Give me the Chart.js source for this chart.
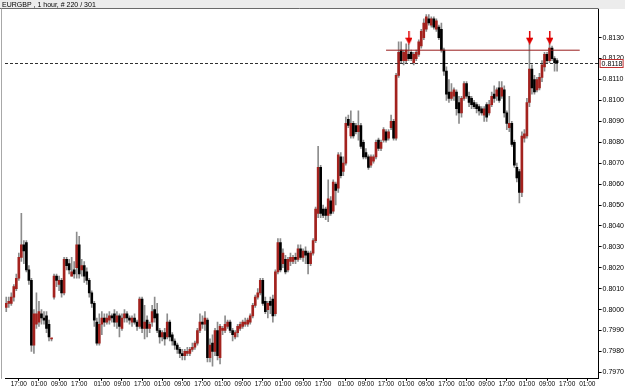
<!DOCTYPE html>
<html>
<head>
<meta charset="utf-8">
<script src="https://cdn.jsdelivr.net/npm/chart.js@4"></script>
<style>
html, body { margin: 0; padding: 0; background: #fff; }
</style>
</head>
<body>
<canvas id="chart" width="625" height="388"></canvas>
<script>
// EURGBP 1 hour candles, oldest first
const opens = [
  0.8001,0.8003,0.8003,0.8006,0.8010,0.8015,0.8025,0.8031,0.8032,0.8019,
  0.8014,0.7983,0.7993,0.7994,0.7998,0.7996,0.7997,0.7993,0.7986,0.8006,
  0.8016,0.8012,0.8014,0.8008,0.8024,0.8022,0.8016,0.8019,0.8020,0.8031,
  0.8019,0.8021,0.8018,0.8014,0.8008,0.8003,0.7994,0.7984,0.7993,0.7996,
  0.7994,0.7995,0.7997,0.7998,0.7994,0.7997,0.7991,0.7996,0.7998,0.7996,
  0.7994,0.7996,0.7994,0.7992,0.8005,0.7991,0.7995,0.7991,0.7994,0.8000,
  0.7998,0.7990,0.7987,0.7989,0.7987,0.7994,0.7988,0.7985,0.7983,0.7981,
  0.7979,0.7978,0.7979,0.7979,0.7981,0.7982,0.7984,0.7990,0.7994,0.7993,
  0.7995,0.7977,0.7984,0.7980,0.7990,0.7977,0.7990,0.7990,0.7992,0.7994,
  0.7990,0.7987,0.7989,0.7991,0.7992,0.7993,0.7993,0.7994,0.7997,0.8002,
  0.8006,0.8008,0.8014,0.8004,0.8000,0.8004,0.8005,0.7998,0.8018,0.8032,
  0.8022,0.8024,0.8019,0.8023,0.8023,0.8025,0.8024,0.8029,0.8025,0.8028,
  0.8027,0.8022,0.8027,0.8033,0.8046,0.8068,0.8048,0.8048,0.8045,0.8052,
  0.8047,0.8060,0.8058,0.8073,0.8066,0.8070,0.8091,0.8083,0.8089,0.8088,
  0.8085,0.8088,0.8080,0.8075,0.8073,0.8069,0.8071,0.8073,0.8081,0.8077,
  0.8081,0.8085,0.8082,0.8087,0.8090,0.8082,0.8112,0.8124,0.8119,0.8119,
  0.8122,0.8123,0.8118,0.8120,0.8122,0.8126,0.8130,0.8134,0.8139,0.8136,
  0.8139,0.8134,0.8135,0.8134,0.8124,0.8114,0.8104,0.8101,0.8102,0.8104,
  0.8099,0.8094,0.8101,0.8108,0.8102,0.8101,0.8099,0.8098,0.8097,0.8096,
  0.8093,0.8098,0.8094,0.8098,0.8103,0.8102,0.8106,0.8102,0.8105,0.8094,
  0.8087,0.8089,0.8080,0.8068,0.8066,0.8056,0.8082,0.8083,0.8099,0.8115,
  0.8110,0.8105,0.8106,0.8111,0.8116,0.8122,0.8119,0.8125,0.8120,0.8119
];
const highs = [
  0.8006,0.8006,0.8008,0.8012,0.8017,0.8027,0.8046,0.8033,0.8033,0.8021,
  0.8015,0.8000,0.8008,0.8004,0.8000,0.7999,0.7999,0.7995,0.7986,0.8017,
  0.8017,0.8016,0.8015,0.8025,0.8025,0.8024,0.8025,0.8023,0.8037,0.8035,
  0.8024,0.8023,0.8020,0.8015,0.8009,0.8004,0.7996,0.7998,0.7999,0.7998,
  0.7998,0.7999,0.7998,0.8000,0.7999,0.7998,0.7998,0.8000,0.7999,0.7997,
  0.7997,0.7998,0.7995,0.8006,0.8006,0.8002,0.7997,0.7994,0.8002,0.8006,
  0.8003,0.7991,0.7990,0.7991,0.7998,0.7995,0.7989,0.7986,0.7984,0.7982,
  0.7981,0.7981,0.7982,0.7982,0.7984,0.7985,0.7991,0.7998,0.7997,0.7999,
  0.7996,0.7986,0.7988,0.7991,0.7994,0.7993,0.7992,0.7997,0.7995,0.7995,
  0.7991,0.7990,0.7993,0.7994,0.7995,0.7996,0.7996,0.7998,0.8003,0.8007,
  0.8010,0.8015,0.8015,0.8006,0.8004,0.8006,0.8007,0.8019,0.8034,0.8034,
  0.8029,0.8026,0.8025,0.8027,0.8026,0.8027,0.8031,0.8031,0.8029,0.8030,
  0.8028,0.8028,0.8034,0.8049,0.8078,0.8069,0.8050,0.8049,0.8062,0.8054,
  0.8062,0.8061,0.8075,0.8075,0.8073,0.8092,0.8093,0.8095,0.8090,0.8089,
  0.8095,0.8089,0.8081,0.8077,0.8074,0.8074,0.8074,0.8081,0.8082,0.8081,
  0.8087,0.8086,0.8086,0.8093,0.8091,0.8113,0.8128,0.8128,0.8124,0.8127,
  0.8127,0.8124,0.8123,0.8124,0.8129,0.8134,0.8139,0.8141,0.8141,0.8140,
  0.8140,0.8139,0.8136,0.8137,0.8125,0.8116,0.8110,0.8108,0.8106,0.8105,
  0.8102,0.8102,0.8109,0.8109,0.8104,0.8102,0.8100,0.8099,0.8098,0.8097,
  0.8097,0.8099,0.8100,0.8104,0.8107,0.8106,0.8109,0.8109,0.8107,0.8095,
  0.8102,0.8090,0.8081,0.8070,0.8067,0.8085,0.8086,0.8101,0.8128,0.8117,
  0.8112,0.8111,0.8113,0.8119,0.8123,0.8123,0.8128,0.8126,0.8121,0.8120
];
const lows = [
  0.7999,0.8001,0.8002,0.8004,0.8009,0.8014,0.8023,0.8022,0.8018,0.8012,
  0.7980,0.7979,0.7991,0.7992,0.7993,0.7993,0.7989,0.7985,0.7985,0.8005,
  0.8011,0.8009,0.8006,0.8007,0.8019,0.8017,0.8016,0.8015,0.8015,0.8015,
  0.8016,0.8013,0.8012,0.8006,0.8001,0.7992,0.7983,0.7983,0.7988,0.7992,
  0.7993,0.7993,0.7994,0.7992,0.7991,0.7987,0.7990,0.7994,0.7994,0.7993,
  0.7992,0.7993,0.7990,0.7991,0.7989,0.7986,0.7987,0.7989,0.7992,0.7994,
  0.7989,0.7984,0.7985,0.7983,0.7986,0.7985,0.7983,0.7981,0.7979,0.7977,
  0.7976,0.7976,0.7978,0.7978,0.7980,0.7981,0.7983,0.7989,0.7991,0.7990,
  0.7975,0.7975,0.7973,0.7978,0.7976,0.7974,0.7988,0.7989,0.7991,0.7989,
  0.7985,0.7986,0.7987,0.7990,0.7991,0.7992,0.7992,0.7993,0.7996,0.8001,
  0.8005,0.8007,0.8002,0.7998,0.7996,0.7998,0.7994,0.7997,0.8017,0.8018,
  0.8020,0.8017,0.8018,0.8021,0.8022,0.8022,0.8023,0.8024,0.8023,0.8022,
  0.8017,0.8021,0.8026,0.8032,0.8044,0.8044,0.8044,0.8043,0.8042,0.8045,
  0.8046,0.8050,0.8056,0.8063,0.8064,0.8069,0.8087,0.8082,0.8082,0.8084,
  0.8081,0.8077,0.8072,0.8072,0.8067,0.8068,0.8070,0.8072,0.8076,0.8076,
  0.8080,0.8080,0.8081,0.8086,0.8081,0.8081,0.8111,0.8118,0.8117,0.8118,
  0.8119,0.8119,0.8117,0.8119,0.8121,0.8125,0.8129,0.8133,0.8136,0.8135,
  0.8134,0.8133,0.8129,0.8123,0.8112,0.8100,0.8099,0.8100,0.8100,0.8093,
  0.8089,0.8092,0.8100,0.8101,0.8097,0.8096,0.8096,0.8094,0.8093,0.8093,
  0.8090,0.8090,0.8093,0.8097,0.8099,0.8100,0.8099,0.8101,0.8092,0.8086,
  0.8085,0.8078,0.8068,0.8061,0.8051,0.8054,0.8080,0.8082,0.8097,0.8103,
  0.8103,0.8104,0.8105,0.8109,0.8114,0.8118,0.8118,0.8119,0.8114,0.8114
];
const closes = [
  0.8003,0.8004,0.8006,0.8011,0.8015,0.8025,0.8031,0.8028,0.8019,0.8014,
  0.7983,0.7998,0.7998,0.7999,0.7996,0.7995,0.7991,0.7987,0.7986,0.8016,
  0.8014,0.8014,0.8008,0.8024,0.8021,0.8019,0.8018,0.8017,0.8031,0.8017,
  0.8021,0.8016,0.8014,0.8008,0.8003,0.7995,0.7984,0.7993,0.7996,0.7994,
  0.7996,0.7997,0.7996,0.7994,0.7997,0.7992,0.7996,0.7998,0.7996,0.7995,
  0.7996,0.7994,0.7992,0.8005,0.7991,0.7994,0.7991,0.7993,0.7999,0.7996,
  0.7990,0.7987,0.7989,0.7986,0.7994,0.7987,0.7985,0.7983,0.7981,0.7979,
  0.7978,0.7980,0.7980,0.7981,0.7982,0.7984,0.7990,0.7994,0.7993,0.7996,
  0.7977,0.7983,0.7980,0.7990,0.7978,0.7992,0.7991,0.7993,0.7994,0.7990,
  0.7988,0.7989,0.7992,0.7993,0.7994,0.7994,0.7995,0.7997,0.8002,0.8006,
  0.8008,0.8014,0.8003,0.7999,0.8003,0.8002,0.7997,0.8018,0.8032,0.8019,
  0.8027,0.8018,0.8024,0.8025,0.8025,0.8024,0.8029,0.8025,0.8028,0.8026,
  0.8022,0.8027,0.8033,0.8048,0.8068,0.8046,0.8045,0.8045,0.8053,0.8046,
  0.8061,0.8057,0.8074,0.8064,0.8070,0.8089,0.8088,0.8089,0.8083,0.8085,
  0.8088,0.8078,0.8073,0.8073,0.8068,0.8073,0.8073,0.8080,0.8077,0.8080,
  0.8086,0.8081,0.8085,0.8090,0.8082,0.8112,0.8123,0.8119,0.8123,0.8124,
  0.8120,0.8120,0.8122,0.8123,0.8128,0.8133,0.8137,0.8140,0.8137,0.8139,
  0.8135,0.8138,0.8130,0.8124,0.8114,0.8103,0.8101,0.8104,0.8105,0.8096,
  0.8094,0.8101,0.8108,0.8102,0.8099,0.8098,0.8097,0.8096,0.8095,0.8094,
  0.8096,0.8092,0.8098,0.8102,0.8101,0.8105,0.8100,0.8106,0.8094,0.8089,
  0.8089,0.8079,0.8069,0.8063,0.8056,0.8083,0.8084,0.8099,0.8115,0.8106,
  0.8104,0.8110,0.8111,0.8117,0.8122,0.8119,0.8125,0.8120,0.8118,0.8118
];

// time axis labels, left to right
const timeLabels = [
  '17:00','01:00','09:00','17:00','01:00','09:00','17:00','01:00','09:00','17:00',
  '01:00','09:00','17:00','01:00','09:00','17:00','01:00','09:00','17:00','01:00',
  '09:00','17:00','01:00','09:00','17:00','01:00','09:00','17:00','01:00'
];

// price axis labels
const priceTicks = [
  0.7970,0.7980,0.7990,0.8000,0.8010,0.8020,0.8030,0.8040,0.8050,
  0.8060,0.8070,0.8080,0.8090,0.8100,0.8110,0.8120,0.8130
];

const currentPrice = 0.8118;     // dashed bid line
const resistanceLevel = 0.8124;  // hand drawn red line
const resistanceBars = [151, 228];
const arrowBars = [160, 208, 216];
const arrowLevel = 0.8130;

//styles
const FONT = '"Liberation Sans", Arial, sans-serif';
const bullColor = '#a3221e';
const bearColor = '#000000';
const wickColor = '#8c8c8c';

//slots on the time axis: the bars plus the empty space on the right
const SLOTS = 236;
const slotLabels = new Array(SLOTS).fill('');
const labelSlots = timeLabels.map((t, j) => Math.round(5.23 + 8.08 * j));
labelSlots.forEach((s, j) => slotLabels[s] = timeLabels[j]);

const resistanceData = slotLabels.map((_, i) => resistanceBars.includes(i) ? resistanceLevel : null);
const arrowData = slotLabels.map((_, i) => arrowBars.includes(i) ? arrowLevel : null);

//red down arrow used as point style
const arrowImg = document.createElement('canvas');
arrowImg.width = 7;
arrowImg.height = 14;
(() => {
  const c = arrowImg.getContext('2d');
  c.fillStyle = '#e00000';
  c.fillRect(3, 0, 1.5, 7);
  c.beginPath();
  c.moveTo(0, 7);
  c.lineTo(7.5, 7);
  c.lineTo(3.75, 14);
  c.closePath();
  c.fill();
})();

const framePlugin = {
  id: 'frame',
  beforeDraw: (chart) => {
    const { ctx, chartArea: a } = chart;
    ctx.save();
    ctx.fillStyle = '#ffffff';
    ctx.fillRect(0, 0, chart.width, chart.height);
    ctx.fillStyle = '#ececec';
    ctx.fillRect(0, 0, chart.width, Math.round(a.top));
    ctx.restore();
  },
  afterDraw: (chart) => {
    const { ctx, chartArea: a, scales } = chart;
    const top = Math.round(a.top) - 0.5;
    ctx.save();
    ctx.lineWidth = 1;
    ctx.strokeStyle = '#6a6a6a';
    ctx.beginPath();
    ctx.moveTo(0, top);
    ctx.lineTo(a.right, top);
    ctx.stroke();
    ctx.strokeStyle = '#a8a8a8';
    ctx.beginPath();
    ctx.moveTo(1.5, top);
    ctx.lineTo(1.5, a.bottom);
    ctx.stroke();

    // current price line and its box on the price axis
    const py = Math.round(scales.y.getPixelForValue(currentPrice)) + 0.5;
    ctx.setLineDash([3, 2]);
    ctx.strokeStyle = '#303030';
    ctx.beginPath();
    ctx.moveTo(a.left, py);
    ctx.lineTo(a.right, py);
    ctx.stroke();
    ctx.setLineDash([]);
    ctx.fillStyle = '#ffffff';
    ctx.fillRect(a.right + 1, py - 4.5, 24, 9);
    ctx.strokeStyle = '#c03030';
    ctx.strokeRect(a.right + 1.5, py - 4, 23, 8);
    ctx.fillStyle = '#000000';
    ctx.font = '7px ' + FONT;
    ctx.textBaseline = 'middle';
    ctx.fillText(currentPrice.toFixed(4), a.right + 3, py + 0.5);
    ctx.restore();
  }
};

new Chart(document.getElementById('chart'), {
  type: 'bar',
  data: {
    labels: slotLabels,
    datasets: [{
      type: 'line',
      data: resistanceData,
      borderColor: '#981c1c',
      borderWidth: 1,
      pointRadius: 0,
      spanGaps: true,
      order: 0
    }, {
      type: 'line',
      data: arrowData,
      showLine: false,
      pointStyle: arrowImg,
      pointRadius: 4,
      order: 0
    }, {
      data: opens.map((o, i) => [o, closes[i]]),
      backgroundColor: opens.map((o, i) => closes[i] >= o ? bullColor : bearColor),
      barThickness: 2,
      minBarLength: 1,
      grouped: false,
      order: 1
    }, {
      data: lows.map((l, i) => [l, highs[i]]),
      backgroundColor: wickColor,
      barThickness: 1,
      grouped: false,
      order: 2
    }]
  },
  options: {
    responsive: false,
    devicePixelRatio: 1,
    animation: false,
    layout: { padding: { left: 2, right: 0, top: 0, bottom: 0 } },
    plugins: {
      legend: { display: false },
      tooltip: { enabled: false },
      title: {
        display: true,
        text: 'EURGBP , 1 hour, # 220 / 301',
        align: 'start',
        color: '#000',
        font: { family: FONT, size: 7, weight: 'normal', lineHeight: 1.2 },
        padding: { top: 0.5, bottom: 0.5 }
      }
    },
    scales: {
      x: {
        type: 'category',
        afterBuildTicks: (s) => { s.ticks = labelSlots.map(v => ({ value: v })); },
        ticks: {
          autoSkip: false,
          maxRotation: 0,
          padding: 0,
          color: '#000',
          font: { family: FONT, size: 6.5, lineHeight: 1.1 }
        },
        grid: { display: true, drawOnChartArea: false, offset: false, tickLength: 2, color: '#000' },
        border: { color: '#000' }
      },
      y: {
        type: 'linear',
        position: 'right',
        min: 0.79669,
        max: 0.81435,
        afterBuildTicks: (s) => { s.ticks = priceTicks.map(v => ({ value: v })); },
        ticks: {
          padding: 1,
          color: '#000',
          font: { family: FONT, size: 7 },
          callback: (v) => v.toFixed(4)
        },
        grid: { display: true, drawOnChartArea: false, tickLength: 3, color: '#000' },
        border: { color: '#000' }
      }
    }
  },
  plugins: [framePlugin]
});
</script>
</body>
</html>
